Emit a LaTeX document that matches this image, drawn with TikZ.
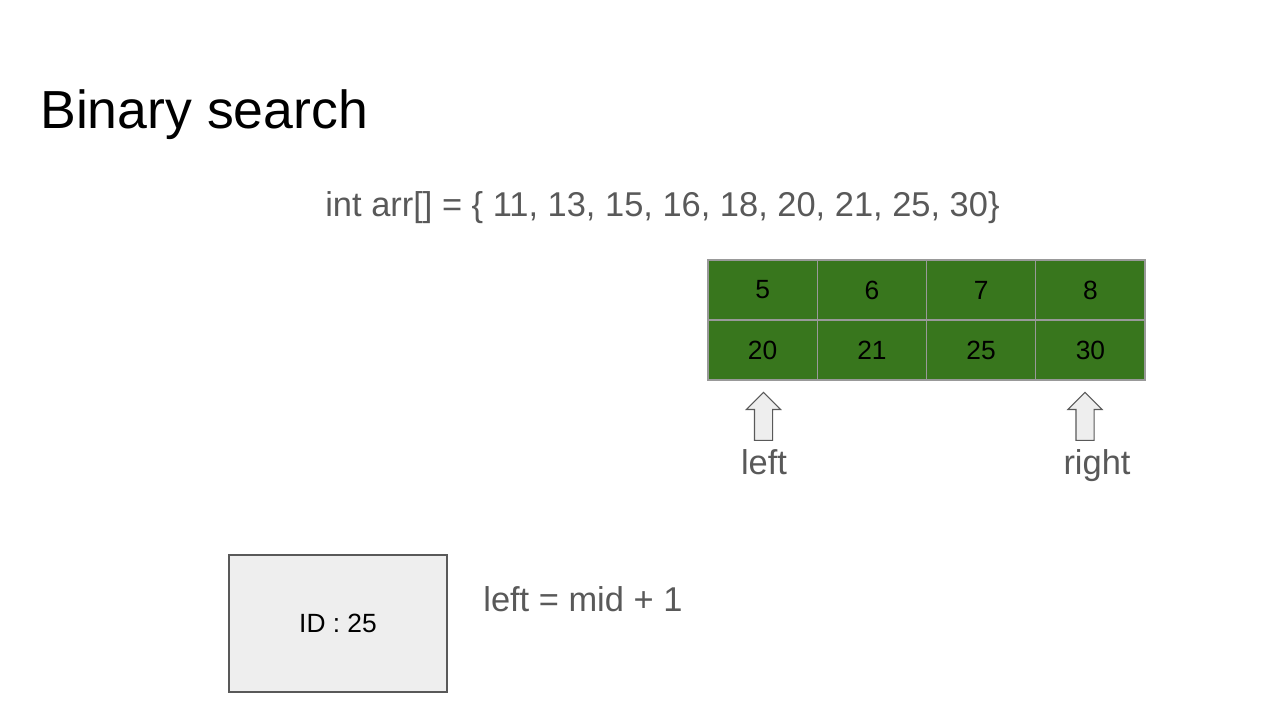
\documentclass[tikz,border=0pt]{standalone}
\usepackage{fontspec}
\setmainfont{Liberation Sans}
\usetikzlibrary{positioning, shapes.arrows}
\definecolor{cellgreen}{HTML}{38761D}
\definecolor{cellline}{HTML}{999999}
\definecolor{textgray}{HTML}{595959}
\definecolor{boxfill}{HTML}{EEEEEE}

\begin{document}
\begin{tikzpicture}[
    x=0.02cm, y=-0.02cm,
    cell/.style={draw=cellline, fill=cellgreen, line width=0.6pt, minimum width=2.185cm, minimum height=1.2cm, inner sep=0pt, font=\fontsize{15}{18}\selectfont},
    uparrow/.style={single arrow, draw=textgray, fill=boxfill, line width=0.6pt, shape border rotate=90, inner sep=0.17cm, minimum height=0.96cm, single arrow head extend=0.16cm, single arrow tip angle=90, anchor=tail},
    lbl/.style={text=textgray, font=\fontsize{19.6}{23}\selectfont, inner sep=0pt},
]
    \useasboundingbox (0,0) rectangle (1268,709);

    % Title
    \node[anchor=base west, font=\fontsize{30.5}{36}\selectfont, inner sep=0pt] (title) at (40, 129) {Binary search};

    % Array
    \node[lbl, anchor=base west] (arr) at (325, 217) {int arr[] = \{ 11, 13, 15, 16, 18, 20, 21, 25, 30\}};

    % Index row
    \node[cell] (i5) at (762.6, 290) {5};
    \node[cell] (i6) at (871.9, 290) {6};
    \node[cell] (i7) at (981.1, 290) {7};
    \node[cell] (i8) at (1090.4, 290) {8};

    % Value row
    \node[cell] (v20) at (762.6, 350) {20};
    \node[cell] (v21) at (871.9, 350) {21};
    \node[cell] (v25) at (981.1, 350) {25};
    \node[cell] (v30) at (1090.4, 350) {30};

    % Pointers
    \node[uparrow] (leftarr) at (763.5, 441) {};
    \node[lbl, anchor=base] (leftlbl) at (764, 475) {left};
    \node[uparrow] (rightarr) at (1085, 441) {};
    \node[lbl, anchor=base] (rightlbl) at (1097, 475) {right};

    % Target
    \node[draw=textgray, fill=boxfill, line width=0.6pt, minimum width=4.36cm, minimum height=2.74cm, inner sep=0pt, font=\fontsize{15}{18}\selectfont] (idbox) at (338, 623.5) {ID : 25};
    \node[lbl, anchor=base west] (step) at (483, 611) {left = mid + 1};

\end{tikzpicture}
\end{document}
